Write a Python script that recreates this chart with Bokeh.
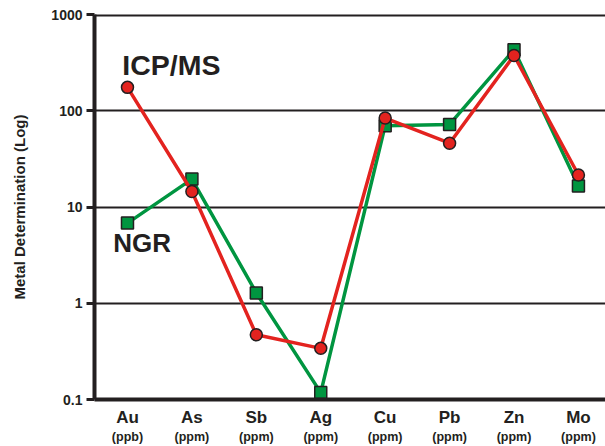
from bokeh.plotting import figure
from bokeh.models import Range1d, FixedTicker, Span, Label, LinearAxis, ColumnDataSource
from bokeh.embed import file_html
from bokeh.resources import INLINE

elements = ["Au", "As", "Sb", "Ag", "Cu", "Pb", "Zn", "Mo"]
units = ["(ppb)", "(ppm)", "(ppm)", "(ppm)", "(ppm)", "(ppm)", "(ppm)", "(ppm)"]
icpms = [175, 14.5, 0.47, 0.34, 84, 46, 375, 21.5]
ngr = [6.8, 19.5, 1.28, 0.118, 70, 72, 430, 16.5]
y_ticks = [0.1, 1, 10, 100, 1000]
y_tick_labels = ["0.1", "1", "10", "100", "1000"]
y_title = "Metal Determination (Log)"

FONT = "Liberation Sans"
RED = "#e3231f"
GREEN = "#009540"
OUTLINE = "#231f20"
INK = "#231f20"

xs = list(range(len(elements)))

p = figure(width=605, height=446, y_axis_type="log",
           x_range=Range1d(-0.512, 7.42), y_range=Range1d(0.1, 1000),
           output_backend="svg", toolbar_location=None,
           min_border_left=94, min_border_top=14, min_border_right=0, min_border_bottom=46)
p.outline_line_color = None
p.background_fill_color = "white"
p.border_fill_color = "white"

# Y axis
p.yaxis.ticker = FixedTicker(ticks=y_ticks, minor_ticks=[])
p.yaxis.major_label_overrides = {t: l for t, l in zip(y_ticks, y_tick_labels)}
p.yaxis.axis_line_width = 4
p.yaxis.axis_line_color = INK
p.yaxis.major_tick_line_width = 3
p.yaxis.major_tick_line_color = INK
p.yaxis.major_tick_in = 0
p.yaxis.major_tick_out = 8
p.yaxis.minor_tick_line_color = None
p.yaxis.major_label_standoff = 4
p.yaxis.major_label_text_font = FONT
p.yaxis.major_label_text_font_style = "bold"
p.yaxis.major_label_text_font_size = "14px"
p.yaxis.major_label_text_color = INK
p.yaxis.axis_label = y_title
p.yaxis.axis_label_text_font = FONT
p.yaxis.axis_label_text_font_style = "bold"
p.yaxis.axis_label_text_font_size = "15px"
p.yaxis.axis_label_text_color = INK
p.yaxis.axis_label_standoff = 20

# X axis (element names)
p.xaxis.ticker = FixedTicker(ticks=xs, minor_ticks=[])
p.xaxis.major_label_overrides = {i: e for i, e in enumerate(elements)}
p.xaxis.axis_line_width = 4
p.xaxis.axis_line_color = INK
p.xaxis.major_tick_line_color = None
p.xaxis.minor_tick_line_color = None
p.xaxis.major_tick_out = 0
p.xaxis.major_tick_in = 0
p.xaxis.major_label_standoff = 8
p.xaxis.major_label_text_font = FONT
p.xaxis.major_label_text_font_style = "bold"
p.xaxis.major_label_text_font_size = "17px"
p.xaxis.major_label_text_color = INK

# Second x axis (units)
ux = LinearAxis(ticker=FixedTicker(ticks=xs, minor_ticks=[]),
                major_label_overrides={i: u for i, u in enumerate(units)})
ux.axis_line_color = None
ux.major_tick_line_color = None
ux.minor_tick_line_color = None
ux.major_tick_out = 0
ux.major_tick_in = 0
ux.major_label_standoff = 0
ux.major_label_text_font = FONT
ux.major_label_text_font_style = "bold"
ux.major_label_text_font_size = "12.5px"
ux.major_label_text_color = INK
p.add_layout(ux, "below")

# Grid
p.xgrid.grid_line_color = None
p.ygrid.ticker = FixedTicker(ticks=[1, 10, 100], minor_ticks=[])
p.ygrid.grid_line_color = INK
p.ygrid.grid_line_width = 2
p.add_layout(Span(location=1000, dimension="width", line_color=INK, line_width=4))

# Series
src = ColumnDataSource(dict(x=xs, icpms=icpms, ngr=ngr))
p.line("x", "ngr", source=src, line_color=GREEN, line_width=3.5)
p.scatter("x", "ngr", source=src, marker="square", size=12, fill_color=GREEN,
          line_color=OUTLINE, line_width=1.5)
p.line("x", "icpms", source=src, line_color=RED, line_width=3.5)
p.scatter("x", "icpms", source=src, marker="circle", size=12, fill_color=RED,
          line_color=OUTLINE, line_width=1.5)

# Series labels
p.add_layout(Label(x=-0.08, y=296, text="ICP/MS", text_align="left", text_baseline="middle",
                   text_font=FONT, text_font_style="bold", text_font_size="28.5px",
                   text_color=INK))
p.add_layout(Label(x=-0.22, y=4.24, text="NGR", text_align="left", text_baseline="middle",
                   text_font=FONT, text_font_style="bold", text_font_size="26px",
                   text_color=INK))

open("out.html", "w").write(file_html(p, INLINE))
